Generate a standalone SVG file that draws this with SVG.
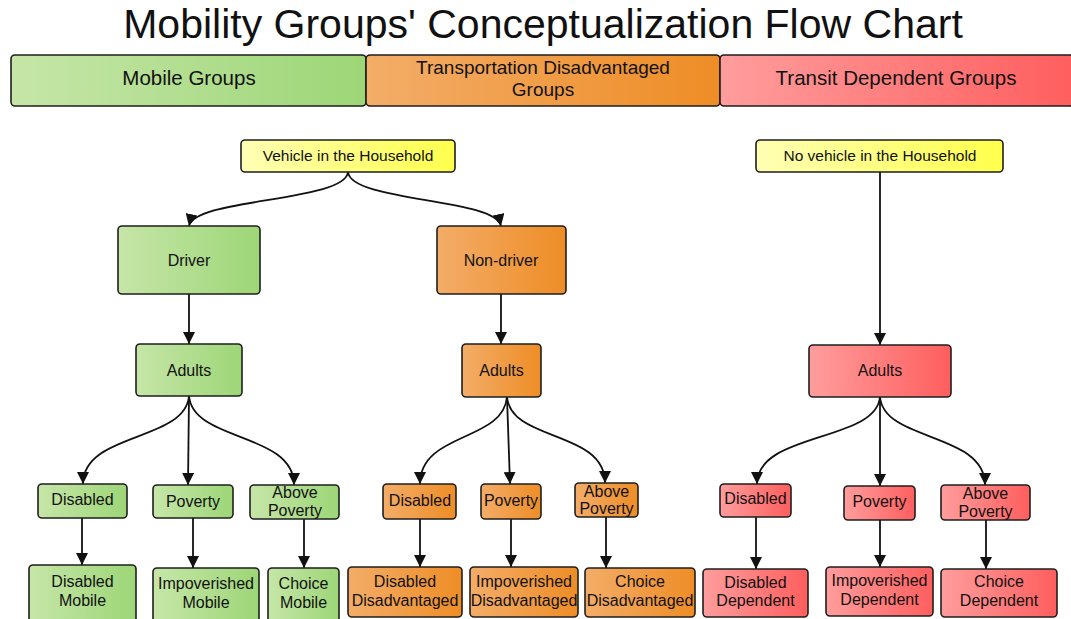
<svg xmlns="http://www.w3.org/2000/svg" width="1071" height="619" viewBox="0 0 1071 619">
<defs>
<linearGradient id="gG" x1="0" y1="0" x2="1" y2="0"><stop offset="0" stop-color="#c6e6a8"/><stop offset="1" stop-color="#9dd677"/></linearGradient>
<linearGradient id="gO" x1="0" y1="0" x2="1" y2="0"><stop offset="0" stop-color="#f3ad68"/><stop offset="1" stop-color="#ee8d26"/></linearGradient>
<linearGradient id="gR" x1="0" y1="0" x2="1" y2="0"><stop offset="0" stop-color="#ff9d9d"/><stop offset="1" stop-color="#ff5e5e"/></linearGradient>
<linearGradient id="gY" x1="0" y1="0" x2="1" y2="0"><stop offset="0" stop-color="#ffffb4"/><stop offset="1" stop-color="#ffff4c"/></linearGradient>
<marker id="ah" markerUnits="userSpaceOnUse" markerWidth="14" markerHeight="12" refX="12" refY="6" orient="auto"><path d="M0,0 L12,6 L0,12 z" fill="#111"/></marker>
<style>
rect{stroke:#1e1e1e;stroke-width:1.6}
.g{fill:url(#gG)}.o{fill:url(#gO)}.r{fill:url(#gR)}.y{fill:url(#gY)}
text{font-family:"Liberation Sans",Arial,sans-serif;fill:#111;text-anchor:middle}
.t{font-size:16px}.ty{font-size:15.5px}.h{font-size:20.5px}.ho{font-size:19px}
#connectors path{fill:none;stroke:#111;stroke-width:1.8;marker-end:url(#ah)}
</style>
</defs>
<rect width="1071" height="619" fill="#fff" style="stroke:none"/>
<text x="543" y="38" style="font-size:41px">Mobility Groups' Conceptualization Flow Chart</text>

<g id="hdr-mobile"><rect class="g" x="11" y="55" width="355" height="51" rx="4"/><text class="h" x="189" y="85">Mobile Groups</text></g>
<g id="hdr-disadv"><rect class="o" x="366" y="55" width="354" height="51" rx="4"/><text class="ho" x="543" y="74">Transportation Disadvantaged</text><text class="ho" x="543" y="96">Groups</text></g>
<g id="hdr-dependent"><rect class="r" x="720" y="55" width="354" height="51" rx="4"/><text class="h" x="896" y="85">Transit Dependent Groups</text></g>

<g id="connectors">
<path d="M348,172 C345,202 195,198 189,226"/>
<path d="M348,172 C351,202 495,198 501,226"/>
<path d="M189,294 L189,344"/>
<path d="M501,294 L501,344"/>
<path d="M880,172 L880,345"/>
<path d="M189,396 C185,442 83,432 83,484"/>
<path d="M189,396 L188,485"/>
<path d="M189,396 C193,442 294,432 294,485"/>
<path d="M507,397 C503,442 420,432 420,484"/>
<path d="M507,397 L510,484"/>
<path d="M507,397 C511,442 605,430 605,483"/>
<path d="M880,397 C876,442 757,432 757,484"/>
<path d="M880,397 L880,486"/>
<path d="M880,397 C884,442 985,432 985,485"/>
<path d="M82,518 L82,565"/>
<path d="M193,518 L193,568"/>
<path d="M304,519 L304,568"/>
<path d="M420,519 L420,567"/>
<path d="M511,519 L511,567"/>
<path d="M606,517 L606,568"/>
<path d="M756,517 L756,569"/>
<path d="M880,520 L880,567"/>
<path d="M986,520 L986,569"/>
</g>

<g id="vehicle"><rect class="y" x="241" y="140" width="214" height="32" rx="4"/><text class="ty" x="348" y="161">Vehicle in the Household</text></g>
<g id="novehicle"><rect class="y" x="756" y="140" width="247" height="32" rx="4"/><text class="ty" x="880" y="161">No vehicle in the Household</text></g>
<g id="driver"><rect class="g" x="118" y="226" width="142" height="68" rx="4"/><text class="t" x="189" y="265.5">Driver</text></g>
<g id="nondriver"><rect class="o" x="437" y="226" width="129" height="68" rx="4"/><text class="t" x="501" y="265.5">Non-driver</text></g>
<g id="adults-g"><rect class="g" x="136" y="344" width="106" height="52" rx="4"/><text class="t" x="189" y="375.5">Adults</text></g>
<g id="adults-o"><rect class="o" x="462" y="344" width="79" height="53" rx="4"/><text class="t" x="501.5" y="376">Adults</text></g>
<g id="adults-r"><rect class="r" x="809" y="345" width="142" height="52" rx="4"/><text class="t" x="880" y="376">Adults</text></g>

<g id="disabled-g"><rect class="g" x="38" y="484" width="89" height="34" rx="4"/><text class="t" x="82.5" y="504.5">Disabled</text></g>
<g id="poverty-g"><rect class="g" x="153" y="485" width="80" height="33" rx="4"/><text class="t" x="193" y="506.5">Poverty</text></g>
<g id="above-g"><rect class="g" x="250" y="485" width="89" height="34" rx="4"/><text class="t" x="295" y="497.5">Above</text><text class="t" x="295" y="515.5">Poverty</text></g>
<g id="disabled-o"><rect class="o" x="383" y="484" width="73" height="35" rx="4"/><text class="t" x="420" y="505.5">Disabled</text></g>
<g id="poverty-o"><rect class="o" x="481" y="484" width="60" height="35" rx="4"/><text class="t" x="511" y="505.5">Poverty</text></g>
<g id="above-o"><rect class="o" x="575" y="483" width="63" height="34" rx="4"/><text class="t" x="606.5" y="496.5">Above</text><text class="t" x="606.5" y="513.5">Poverty</text></g>
<g id="disabled-r"><rect class="r" x="720" y="484" width="71" height="33" rx="4"/><text class="t" x="755.5" y="503.5">Disabled</text></g>
<g id="poverty-r"><rect class="r" x="844" y="486" width="71" height="34" rx="4"/><text class="t" x="879.5" y="506.5">Poverty</text></g>
<g id="above-r"><rect class="r" x="941" y="485" width="89" height="35" rx="4"/><text class="t" x="985.5" y="498.5">Above</text><text class="t" x="985.5" y="516.5">Poverty</text></g>

<g id="disabled-mobile"><rect class="g" x="29" y="565" width="107" height="60" rx="4"/><text class="t" x="82.5" y="586.5">Disabled</text><text class="t" x="82.5" y="605.5">Mobile</text></g>
<g id="impoverished-mobile"><rect class="g" x="153" y="568" width="106" height="57" rx="4"/><text class="t" x="206" y="588.5">Impoverished</text><text class="t" x="206" y="607.5">Mobile</text></g>
<g id="choice-mobile"><rect class="g" x="268" y="568" width="71" height="57" rx="4"/><text class="t" x="303.5" y="588.5">Choice</text><text class="t" x="303.5" y="607.5">Mobile</text></g>
<g id="disabled-disadv"><rect class="o" x="348" y="567" width="114" height="50" rx="4"/><text class="t" x="405" y="586.5">Disabled</text><text class="t" x="405" y="605.5">Disadvantaged</text></g>
<g id="impoverished-disadv"><rect class="o" x="470" y="567" width="108" height="50" rx="4"/><text class="t" x="524" y="586.5">Impoverished</text><text class="t" x="524" y="605.5">Disadvantaged</text></g>
<g id="choice-disadv"><rect class="o" x="585" y="568" width="110" height="49" rx="4"/><text class="t" x="640" y="586.5">Choice</text><text class="t" x="640" y="605.5">Disadvantaged</text></g>
<g id="disabled-dep"><rect class="r" x="703" y="569" width="105" height="48" rx="4"/><text class="t" x="755.5" y="587.5">Disabled</text><text class="t" x="755.5" y="605.5">Dependent</text></g>
<g id="impoverished-dep"><rect class="r" x="826" y="567" width="107" height="49" rx="4"/><text class="t" x="879.5" y="585.5">Impoverished</text><text class="t" x="879.5" y="604.5">Dependent</text></g>
<g id="choice-dep"><rect class="r" x="941" y="569" width="116" height="48" rx="4"/><text class="t" x="999" y="586.5">Choice</text><text class="t" x="999" y="605.5">Dependent</text></g>
</svg>
